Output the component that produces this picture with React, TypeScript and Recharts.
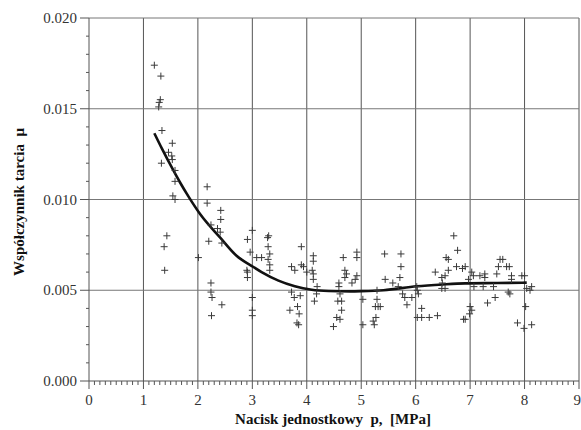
import React from 'react';
import { ComposedChart, Scatter, Line, XAxis, YAxis, ReferenceLine } from 'recharts';

// measured points [p (MPa), mu]
const pointsP1to2: number[][] = [
  [1.2, 0.0174], [1.32, 0.0168], [1.31, 0.0155], [1.29, 0.01535], [1.28, 0.0151], [1.34, 0.0138],
  [1.53, 0.0131], [1.46, 0.0126], [1.52, 0.0124], [1.53, 0.0122], [1.33, 0.012], [1.58, 0.0116],
  [1.58, 0.011], [1.54, 0.0102], [1.58, 0.01], [1.43, 0.008], [1.38, 0.0074], [1.39, 0.0061],
];
const pointsP2to3: number[][] = [
  [2.01, 0.0068], [2.17, 0.0107], [2.17, 0.0098], [2.42, 0.0094], [2.42, 0.0089], [2.24, 0.0086],
  [2.36, 0.0084], [2.41, 0.0082], [2.2, 0.0077], [2.44, 0.0076], [2.24, 0.0054], [2.24, 0.0049],
  [2.26, 0.0046], [2.44, 0.0042], [2.25, 0.0036],
  [2.91, 0.0078], [2.96, 0.0071], [3.0, 0.0083], [2.9, 0.0061], [2.91, 0.006], [2.91, 0.0057],
];
const pointsP3to4: number[][] = [
  [3.08, 0.0068], [3.17, 0.0068], [3.0, 0.0046], [3.0, 0.0039], [3.0, 0.0036], [3.28, 0.0079],
  [3.3, 0.008], [3.29, 0.0074], [3.32, 0.007], [3.29, 0.0067], [3.32, 0.0064], [3.32, 0.0061],
  [3.9, 0.0074], [3.72, 0.0063], [3.78, 0.0061], [3.9, 0.0064], [3.94, 0.0063], [4.0, 0.006],
  [3.72, 0.0049], [3.77, 0.0046], [3.88, 0.0047], [3.69, 0.0039], [3.83, 0.0041], [3.86, 0.0037],
  [3.85, 0.0031], [3.82, 0.0032],
];
const pointsP4to5: number[][] = [
  [4.12, 0.0069], [4.12, 0.0066], [4.1, 0.0061], [4.12, 0.0059], [4.12, 0.0056], [4.18, 0.0048],
  [4.19, 0.0052], [4.14, 0.0044],
  [4.67, 0.0068], [4.7, 0.0061], [4.73, 0.0059], [4.7, 0.0057], [4.92, 0.0071], [4.92, 0.0068],
  [4.92, 0.0058], [4.89, 0.0056], [4.83, 0.0054], [4.59, 0.0054], [4.59, 0.0052], [4.61, 0.0048],
  [4.57, 0.0044], [4.64, 0.0044], [4.64, 0.0039], [4.55, 0.0035], [4.61, 0.0034], [4.49, 0.003],
  [5.03, 0.0045], [5.03, 0.0031],
];
const pointsP5to6: number[][] = [
  [5.43, 0.007], [5.44, 0.0056], [5.29, 0.005], [5.29, 0.0045], [5.26, 0.0041], [5.35, 0.0041],
  [5.31, 0.0041], [5.27, 0.0035], [5.22, 0.0033], [5.24, 0.0031],
  [5.73, 0.007], [5.73, 0.0063], [5.71, 0.0057], [5.58, 0.0054], [5.68, 0.0052], [5.76, 0.0048],
  [5.8, 0.0046], [5.84, 0.0042], [5.93, 0.0046], [6.02, 0.0052], [6.05, 0.0048], [6.03, 0.005],
  [6.11, 0.004], [6.03, 0.0035], [6.11, 0.0035], [6.25, 0.0035], [6.4, 0.0036],
];
const pointsP6to7: number[][] = [
  [6.36, 0.006], [6.48, 0.0057], [6.54, 0.0058], [6.48, 0.0051], [6.54, 0.0051], [6.6, 0.0067],
  [6.6, 0.0061], [6.7, 0.008], [6.77, 0.0072], [6.75, 0.0063], [6.86, 0.0062], [6.88, 0.0034],
  [6.56, 0.0068], [6.49, 0.0054],
  [6.91, 0.0063], [7.03, 0.006], [7.06, 0.0058], [6.97, 0.0056], [7.07, 0.0052], [7.0, 0.0041],
  [7.03, 0.0039], [6.99, 0.0037], [6.91, 0.0034],
];
const pointsP7to8: number[][] = [
  [7.18, 0.0058], [7.27, 0.0059], [7.27, 0.0057], [7.24, 0.0052], [7.43, 0.0052], [7.32, 0.0043],
  [7.46, 0.0046], [7.49, 0.0059], [7.52, 0.0063], [7.55, 0.0067], [7.6, 0.0067], [7.67, 0.0063],
  [7.72, 0.0063], [7.76, 0.0058], [7.76, 0.0056], [7.7, 0.0049], [7.73, 0.0048], [7.95, 0.0058],
  [8.0, 0.0058], [8.04, 0.0051], [8.1, 0.005], [8.13, 0.0052], [8.02, 0.0041], [7.87, 0.0032],
  [7.99, 0.0029], [8.13, 0.0031],
];

// fitted curve
const fitP = [1.2, 1.34, 1.55, 1.67, 1.82, 2.04, 2.41, 2.71, 3.02, 3.17, 3.48, 3.78, 4.09, 4.4, 4.8, 5.0, 5.41, 6.02, 6.5, 6.91, 7.5, 8.04];
const fitMu = [0.01365, 0.0128, 0.0116, 0.01095, 0.0102, 0.0092, 0.0079, 0.0069, 0.00628, 0.006, 0.00553, 0.00522, 0.00503, 0.00496, 0.00494, 0.00495, 0.005, 0.00522, 0.00532, 0.00538, 0.0054, 0.00542];

const xTickLabels = ['0', '1', '2', '3', '4', '5', '6', '7', '8', '9'];
const yTickLabels = ['0.000', '0.005', '0.010', '0.015', '0.020'];

const measured = [
  ...pointsP1to2, ...pointsP2to3, ...pointsP3to4, ...pointsP4to5,
  ...pointsP5to6, ...pointsP6to7, ...pointsP7to8,
].map(([p, mu]) => ({ p, mu }));
const fit = fitP.map((p, i) => ({ p, mu: fitMu[i] }));

const xMajor = xTickLabels.map(Number);
const yMajor = yTickLabels.map(Number);
const xTicks: number[] = [];
for (let i = 0; i <= 90; i++) xTicks.push(Number((i * 0.1).toFixed(1)));
const yTicks: number[] = [];
for (let i = 0; i <= 20; i++) yTicks.push(Number((i * 0.001).toFixed(3)));

const FONT = 'Liberation Serif, Times New Roman, Times, serif';
const tickText: React.CSSProperties = { fontFamily: FONT, fontSize: 15 };
const titleText: React.CSSProperties = { fontFamily: FONT, fontSize: 15, fontWeight: 'bold', whiteSpace: 'pre' };

const XTick = (props: any) => {
  const { x, y, payload } = props;
  const v = payload.value as number;
  const major = Math.abs(v - Math.round(v)) < 1e-6;
  const idx = Math.round(v);
  const last = idx === xTickLabels.length - 1;
  return (
    <g>
      <line x1={x} y1={y} x2={x} y2={y + (major ? 8 : 4)} stroke="#555" strokeWidth={1} />
      {major && (
        <text x={last ? x + 2 : x} y={y + 24} textAnchor={last ? 'end' : 'middle'} style={tickText} fill="#333">
          {xTickLabels[idx]}
        </text>
      )}
    </g>
  );
};

const YTick = (props: any) => {
  const { x, y, payload } = props;
  const v = payload.value as number;
  const k = v / 0.005;
  const major = Math.abs(k - Math.round(k)) < 1e-6;
  return (
    <g>
      <line x1={x - (major ? 9 : 3)} y1={y} x2={x} y2={y} stroke="#555" strokeWidth={1} />
      {major && (
        <text x={x - 12} y={y + 5} textAnchor="end" style={tickText} fill="#333">
          {yTickLabels[Math.round(k)]}
        </text>
      )}
    </g>
  );
};

const Plus = (props: any) => {
  const { cx, cy } = props;
  if (cx == null || cy == null) return null;
  return (
    <path
      d={`M${cx - 3.5},${cy}H${cx + 3.5}M${cx},${cy - 3.5}V${cy + 3.5}`}
      stroke="#3a3a3a"
      strokeWidth={1}
      fill="none"
    />
  );
};

export default function App() {
  return (
    <div style={{ position: 'absolute', left: 0, top: 0, width: 581, height: 430, background: '#fff' }}>
      <ComposedChart width={581} height={430} margin={{ top: 18, right: 2, left: 0, bottom: 9 }}>
        <XAxis
          type="number"
          dataKey="p"
          domain={[0, 9]}
          ticks={xTicks}
          interval={0}
          tickSize={0}
          tickMargin={0}
          tick={<XTick />}
          height={40}
          stroke="#555"
          allowDataOverflow
          label={() => (
            <text x={333} y={424} textAnchor="middle" style={titleText} fill="#111">
              {'Nacisk jednostkowy  p,  [MPa]'}
            </text>
          )}
        />
        <YAxis
          type="number"
          dataKey="mu"
          domain={[0, 0.02]}
          ticks={yTicks}
          interval={0}
          tickSize={0}
          tickMargin={0}
          tick={<YTick />}
          width={89}
          stroke="#555"
          allowDataOverflow
          label={() => (
            <text x={24} y={202} transform="rotate(-90 24 202)" textAnchor="middle" style={titleText} fill="#111">
              {'Współczynnik tarcia  μ'}
            </text>
          )}
        />
        {xMajor.slice(1).map((v) => (
          <ReferenceLine key={'vx' + v} x={v} stroke="#555" strokeWidth={1} />
        ))}
        {yMajor.slice(1).map((v) => (
          <ReferenceLine key={'hy' + v} y={v} stroke="#777" strokeWidth={1} />
        ))}
        <Scatter data={measured} dataKey="mu" shape={<Plus />} isAnimationActive={false} />
        <Line data={fit} dataKey="mu" type="monotone" stroke="#111" strokeWidth={2.6} dot={false} activeDot={false} isAnimationActive={false} />
      </ComposedChart>
    </div>
  );
}
